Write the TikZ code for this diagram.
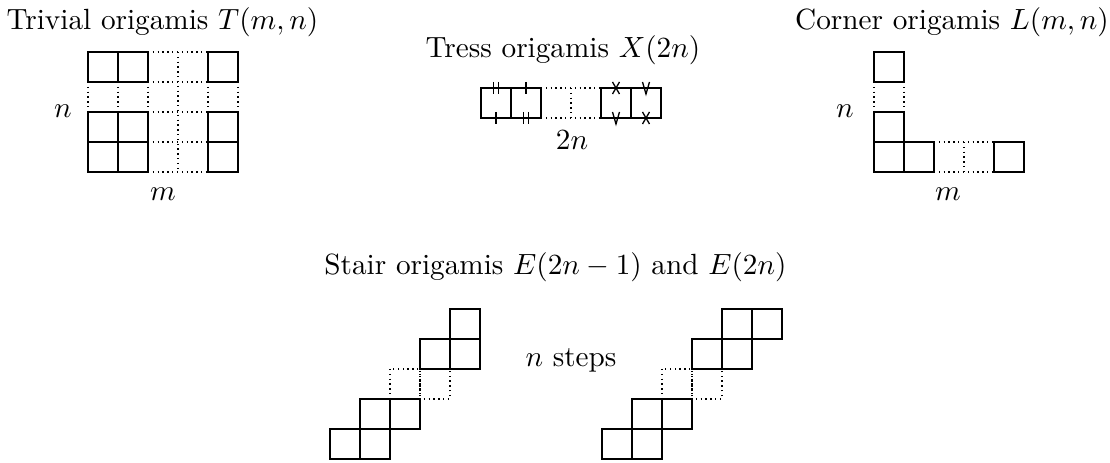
\documentclass[tikz,border=0pt]{standalone}
\begin{document}
\begin{tikzpicture}[x=0.342pt,y=-0.342pt,
  sq/.style={line width=0.6pt},
  dt/.style={line width=0.6pt, dash pattern=on 0.45pt off 1.2pt},
  mk/.style={line width=0.45pt},
  lbl/.style={anchor=base, inner sep=0pt}]
\useasboundingbox (0,0) rectangle (1110,463);

% ---------- Trivial ----------
\node[lbl] (ttitle) at (162.5,30) {Trivial origamis $T(m,n)$};
\foreach \x in {88,118,208}{
  \draw[sq] (\x,52) rectangle ++(30,30);
  \draw[sq] (\x,112) rectangle ++(30,30);
  \draw[sq] (\x,142) rectangle ++(30,30);
}
\foreach \y in {52,82,112,142,172}{ \draw[dt] (148,\y) -- (208,\y); }
\draw[dt] (178,52) -- (178,172);
\foreach \x in {88,118,148,208,238}{ \draw[dt] (\x,82) -- (\x,112); }
\node[lbl] (tn) at (63,118) {$n$};
\node[lbl] (tm) at (163,201) {$m$};

% ---------- Tress ----------
\node[lbl] (xtitle) at (563,58) {Tress origamis $X(2n)$};
\foreach \x in {481,511,601,631}{ \draw[sq] (\x,88) rectangle ++(30,30); }
\draw[dt] (541,88) -- (601,88);
\draw[dt] (541,118) -- (601,118);
\draw[dt] (571,88) -- (571,118);
% marks
\draw[mk] (493.2,82) -- (493.2,94) (498.8,82) -- (498.8,94);
\draw[mk] (496,112) -- (496,124);
\draw[mk] (526,82) -- (526,94);
\draw[mk] (523.2,112) -- (523.2,124) (528.8,112) -- (528.8,124);
\draw[mk] (612.5,82) -- (619.5,94) (619.5,82) -- (612.5,94);
\draw[mk] (612.5,112) -- (616,124) -- (619.5,112);
\draw[mk] (642.5,82) -- (646,94) -- (649.5,82);
\draw[mk] (642.5,112) -- (649.5,124) (649.5,112) -- (642.5,124);
\node[lbl] (x2n) at (572,150) {$2n$};

% ---------- Corner ----------
\node[lbl] (ltitle) at (952,30) {Corner origamis $L(m,n)$};
\draw[sq] (874,52) rectangle ++(30,30);
\draw[sq] (874,112) rectangle ++(30,30);
\draw[sq] (874,142) rectangle ++(30,30);
\draw[sq] (904,142) rectangle ++(30,30);
\draw[sq] (994,142) rectangle ++(30,30);
\draw[dt] (874,82) -- (874,112);
\draw[dt] (904,82) -- (904,112);
\draw[dt] (934,142) -- (994,142);
\draw[dt] (934,172) -- (994,172);
\draw[dt] (964,142) -- (964,172);
\node[lbl] (ln) at (845,118) {$n$};
\node[lbl] (lm) at (948,201) {$m$};

% ---------- Stairs ----------
\node[lbl] (etitle) at (555.5,275) {Stair origamis $E(2n-1)$ and $E(2n)$};
% left
\draw[dt] (390,369) rectangle ++(30,30);
\draw[dt] (420,369) rectangle ++(30,30);
\draw[sq] (330,429) rectangle ++(30,30);
\draw[sq] (360,429) rectangle ++(30,30);
\draw[sq] (360,399) rectangle ++(30,30);
\draw[sq] (390,399) rectangle ++(30,30);
\draw[sq] (420,339) rectangle ++(30,30);
\draw[sq] (450,339) rectangle ++(30,30);
\draw[sq] (450,309) rectangle ++(30,30);
% right
\draw[dt] (662,369) rectangle ++(30,30);
\draw[dt] (692,369) rectangle ++(30,30);
\draw[sq] (602,429) rectangle ++(30,30);
\draw[sq] (632,429) rectangle ++(30,30);
\draw[sq] (632,399) rectangle ++(30,30);
\draw[sq] (662,399) rectangle ++(30,30);
\draw[sq] (692,339) rectangle ++(30,30);
\draw[sq] (722,339) rectangle ++(30,30);
\draw[sq] (722,309) rectangle ++(30,30);
\draw[sq] (752,309) rectangle ++(30,30);
\node[lbl] (steps) at (571,367) {$n$ steps};
\end{tikzpicture}
\end{document}
